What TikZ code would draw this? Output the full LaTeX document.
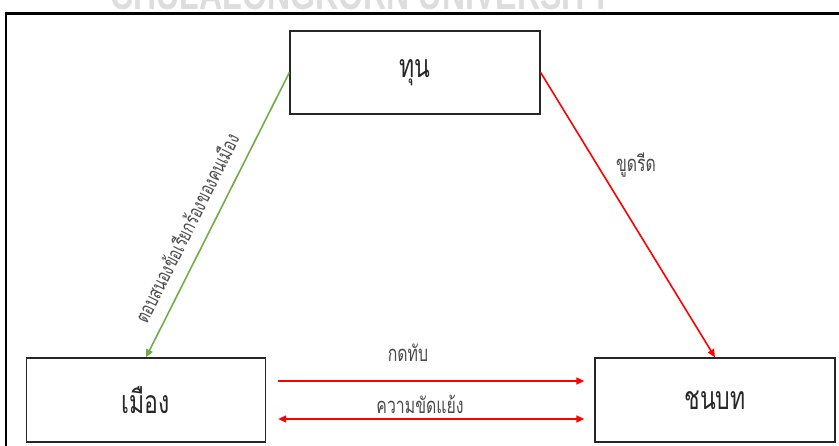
\documentclass[tikz,border=0pt]{standalone}
\usepackage{fontspec}
\usepackage{tikz}
\usetikzlibrary{arrows.meta,positioning}
\setsansfont{Liberation Sans}
\newfontfamily\thaifont[Script=Thai,FakeStretch=0.72]{Loma}
\definecolor{offgreen}{HTML}{70AD47}
\definecolor{labelgray}{HTML}{4A4A4A}
\definecolor{markgray}{HTML}{DDDDDD}

\begin{document}
\begin{tikzpicture}[x=1pt,y=-1pt,
  every node/.append style={inner sep=0pt},
  actor/.style={draw=black!85,line width=1.3pt,minimum width=250pt,minimum height=83pt,font=\thaifont\fontsize{32}{36}\selectfont,text=black!85},
  lbl/.style={font=\thaifont\fontsize{22}{24}\selectfont,text=labelgray},
  redline/.style={draw=red,line width=1.6pt,-{Triangle[length=8pt,width=7pt]}},
  greenline/.style={draw=offgreen,line width=1.6pt,-{Triangle[length=8pt,width=7pt]}}]
\useasboundingbox (0,0) rectangle (839,446);
\clip (0,0) rectangle (839,446);
% watermark
\node[font=\sffamily\bfseries\fontsize{44}{44}\selectfont,text=markgray,anchor=base] (mark) at (361,10) {\scalebox{0.73}[1]{CHULALONGKORN UNIVERSITY}};
% frame
\draw [black,line width=2.2pt] (6,13.5) rectangle (860,470);
% boxes
\node[actor] (tun) at (415,72.5) {ทุน};
\node[actor,minimum width=239pt,minimum height=84pt] (muang) at (146,400) {เมือง};
\node[actor,minimum width=240pt,minimum height=84pt] (chonbot) at (715,400) {ชนบท};
% links
\draw [greenline] (tun.west) -- (muang.north);
\draw [redline] (tun.east) -- (chonbot.north);
\draw [redline] ([xshift=12pt,yshift=19pt]muang.east) -- ([xshift=-10pt,yshift=19pt]chonbot.west);
\draw [redline,{Triangle[length=8pt,width=7pt]}-{Triangle[length=8pt,width=7pt]}] ([xshift=12pt,yshift=-19pt]muang.east) -- ([xshift=-10pt,yshift=-19pt]chonbot.west);
% labels
\node[lbl] (kodtap) at (408,353) {กดทับ};
\node[lbl] (khatyaeng) at (420,404) {ความขัดแย้ง};
\node[lbl] (khutrit) at (636,165) {ขูดรีด};
\node[lbl,rotate=63.5,font=\thaifont\fontsize{20}{22}\selectfont] (tobsanong) at (186,228) {ตอบสนองข้อเรียกร้องของคนเมือง};
\end{tikzpicture}
\end{document}
